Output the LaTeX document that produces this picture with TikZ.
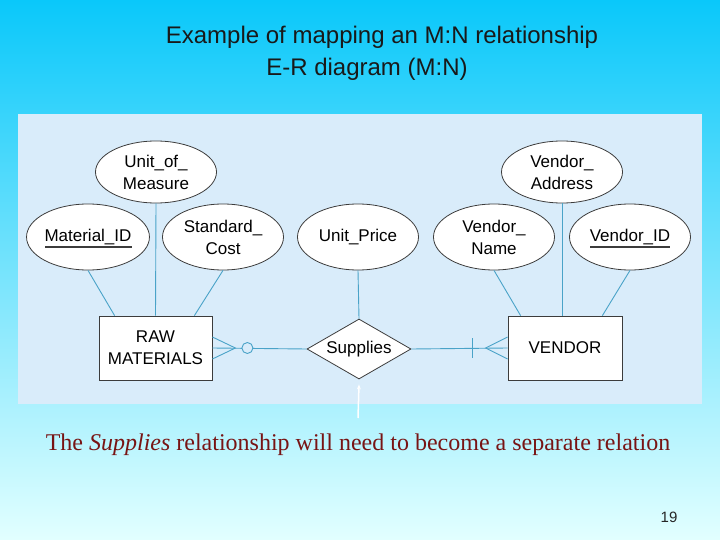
\documentclass[tikz,border=0pt]{standalone}
\usepackage{fontspec}
\setmainfont{Liberation Serif}
\newfontfamily\arialf{Liberation Sans}
\usetikzlibrary{shapes.geometric,arrows.meta}
\definecolor{topc}{RGB}{10,200,250}
\definecolor{midc}{RGB}{140,222,252}
\definecolor{botc}{RGB}{226,255,255}
\definecolor{panel}{RGB}{217,236,250}
\definecolor{conn}{RGB}{74,163,200}
\definecolor{edge}{RGB}{60,60,60}
\definecolor{darkred}{RGB}{120,20,20}
\tikzset{
  attr/.style={ellipse, draw=edge, fill=white, line width=0.8pt, minimum width=121pt, minimum height=64pt, inner sep=0pt, align=center, font=\arialf\fontsize{17}{22}\selectfont},
  ent/.style={rectangle, draw=edge, fill=white, line width=0.8pt, minimum width=113pt, minimum height=64pt, inner sep=0pt, align=center, font=\arialf\fontsize{17}{22}\selectfont},
  rel/.style={diamond, draw=edge, fill=white, line width=0.8pt, minimum width=104pt, minimum height=60pt, inner sep=0pt, aspect=1.75, font=\arialf\fontsize{17}{22}\selectfont},
  cn/.style={draw=conn, line width=0.9pt},
  ul/.style={draw=edge, line width=1.2pt}
}
\begin{document}
\begin{tikzpicture}[x=1pt,y=-1pt]
\shade[top color=topc, middle color=midc, bottom color=botc] (0,0) rectangle (720,540);
\useasboundingbox (0,0) rectangle (720,540);
\fill[panel] (18,114) rectangle (702,404);
% title
\node[font=\arialf\fontsize{24}{28}\selectfont, text=black!90] (t1) at (382,37) {Example of mapping an M:N relationship};
\node[font=\arialf\fontsize{24}{28}\selectfont, text=black!90] (t2) at (367,69) {E-R diagram (M:N)};
% attributes
\node[attr, minimum height=62pt] (uom) at (156,172) {Unit\_of\_\\Measure};
\node[attr, minimum height=66pt] (mat) at (88,237) {Material\_ID};
\node[attr, minimum height=66pt] (std) at (223,237) {Standard\_\\Cost};
\node[attr, minimum height=66pt] (up) at (358,237) {Unit\_Price};
\node[attr, minimum height=66pt] (vn) at (494,237) {Vendor\_\\Name};
\node[attr, minimum height=62pt] (va) at (562,172) {Vendor\_\\Address};
\node[attr, minimum height=66pt] (vid) at (630,237) {Vendor\_ID};
% underlines
\draw[ul] ([xshift=-43pt,yshift=-10pt]mat.center) -- ([xshift=44pt,yshift=-10pt]mat.center);
\draw[ul] ([xshift=-40pt,yshift=-10pt]vid.center) -- ([xshift=40pt,yshift=-10pt]vid.center);
% entities and relationship
\node[ent] (raw) at (155.5,348) {RAW\\MATERIALS};
\node[ent, minimum width=114pt] (ven) at (565,348) {VENDOR};
\node[rel] (sup) at (359,349) {Supplies};
% attribute connectors
\draw[cn] (mat.south) -- ([xshift=16pt]raw.north west);
\draw[cn] (uom.south) -- (raw.north);
\draw[cn] (std.south) -- ([xshift=-18pt]raw.north east);
\draw[cn] (up.south) -- (sup.north);
\draw[cn] (vn.south) -- ([xshift=13pt]ven.north west);
\draw[cn] (va.south) -- (ven.north -| va.south);
\draw[cn] (vid.south) -- ([xshift=-20pt]ven.north east);
% relationship connectors
\draw[cn] (raw.east) -- (sup.west);
\draw[cn] ([yshift=11pt]raw.east) -- ([xshift=23pt]raw.east) -- ([yshift=-11pt]raw.east);
\node[circle, draw=conn, fill=panel, line width=0.9pt, minimum size=11pt, inner sep=0pt] (oc) at ([xshift=35pt]raw.east) {};
\draw[cn] (sup.east) -- (ven.west);
\draw[cn] ([yshift=11pt]ven.west) -- ([xshift=-22pt]ven.west) -- ([yshift=-11pt]ven.west);
\draw[cn] ([xshift=-35pt,yshift=10pt]ven.west) -- ([xshift=-35pt,yshift=-10pt]ven.west);
% white arrow
\coordinate (wa) at (358,418);
\draw[white, line width=1.5pt, -{Stealth[length=5pt,width=4pt]}] (wa) -- ([yshift=-5pt]sup.south);
% bottom text
\node[font=\fontsize{24}{28}\selectfont, text=darkred] (cap) at (358,445) {The \textit{Supplies} relationship will need to become a separate relation};
\node[font=\arialf\fontsize{15}{18}\selectfont, text=black!85] (pg) at (669,517) {19};
\end{tikzpicture}
\end{document}
